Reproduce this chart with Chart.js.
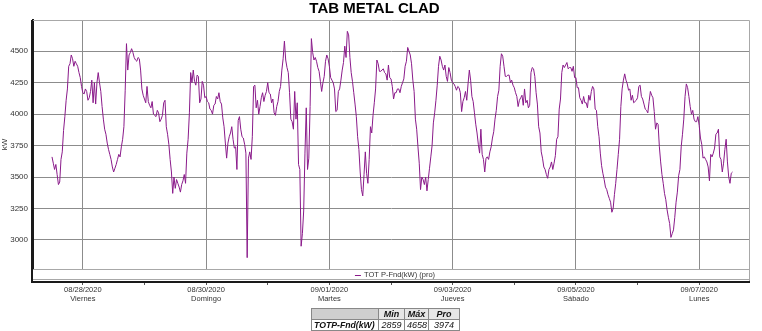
<!DOCTYPE html>
<html>
<head>
<meta charset="utf-8">
<title>TAB METAL CLAD</title>
<script src="https://cdn.jsdelivr.net/npm/chart.js@4.4.0/dist/chart.umd.min.js"></script>
<style>
  html, body { margin: 0; padding: 0; background: #fff; }
  #wrap { position: relative; width: 762px; height: 331px; overflow: hidden; }
  #stats {
    position: absolute; left: 311px; top: 308px; width: 148px;
    table-layout: fixed; border-collapse: collapse;
    font-family: Arial, "Liberation Sans", sans-serif;
    font-style: italic; color: #111;
  }
  #stats td { border: 1px solid #888; padding: 0 2px; height: 10px; line-height: 10px; text-align: center; font-size: 9px; overflow: hidden; white-space: nowrap; }
  #stats tr.head td { font-weight: bold; background: #e6e6e6; }
  #stats tr.head td.blank { background: #cfcfcf; }
  #stats td.name { font-weight: bold; font-size: 8.7px; text-align: left; }
</style>
</head>
<body>
<div id="wrap">
  <canvas id="chart" width="762" height="331"></canvas>
  <table id="stats">
    <colgroup><col style="width:67px"><col style="width:26px"><col style="width:24px"><col style="width:31px"></colgroup>
  </table>
</div>
<script>
// hours counted from 08/28/2020 00:00, one reading every half hour
const startHour = -12;
const stepHours = 0.5;
const kwValues = [
  3660,3610,3560,3600,3520,3440,3460,3640,3700,3870,3980,4110,
  4200,4380,4400,4470,4440,4380,4420,4400,4380,4330,4290,4220,
  4170,4160,4200,4180,4110,4130,4180,4270,4090,4250,4080,4250,
  4330,4250,4180,4060,3960,3880,3840,3770,3720,3680,3640,3580,
  3540,3570,3600,3640,3680,3660,3740,3800,3900,4190,4560,4350,
  4470,4490,4520,4490,4450,4430,4420,4450,4440,4350,4200,4150,
  4120,4090,4220,4100,4070,4050,4100,4000,3990,3980,4030,4010,
  3940,3960,3990,4090,4110,3900,3840,3760,3640,3540,3370,3500,
  3410,3480,3450,3420,3380,3440,3470,3520,3450,3690,3800,4010,
  4330,4250,4350,4260,4230,4310,4300,4090,4120,4260,4230,4130,
  4140,4100,4090,4040,4030,4000,4070,4080,4140,4120,4170,4100,
  4080,3970,3900,3770,3650,3770,3820,3850,3900,3800,3730,3740,
  3560,3950,3980,3880,3820,3810,3760,3690,2859,3650,3700,3640,
  3820,4220,4230,4050,4110,4000,4060,4130,4170,4100,4150,4180,
  4250,4170,4160,4090,4120,4010,3990,4060,4100,4180,4220,4350,
  4440,4580,4430,4370,4330,4170,3960,3940,3880,4180,3960,4090,
  3600,3560,2950,3050,3230,3690,4050,3560,3650,4060,4600,4490,
  4430,4450,4420,4370,4340,4260,4180,4250,4300,4420,4470,4440,
  4380,4290,4270,4250,4200,4020,4030,4180,4200,4270,4350,4410,
  4540,4450,4658,4630,4450,4330,4260,4170,4080,3980,3820,3720,
  3540,3400,3350,3520,3700,3530,3450,3640,3900,3850,3990,4090,
  4200,4430,4400,4340,4340,4350,4360,4330,4320,4270,4390,4290,
  4280,4220,4120,4170,4170,4200,4200,4170,4220,4250,4280,4380,
  4420,4530,4500,4470,4400,4270,4180,3960,3880,3740,3610,3400,
  3500,3480,3440,3500,3390,3480,3570,3660,3750,3930,4010,4110,
  4230,4380,4460,4430,4380,4350,4390,4300,4260,4370,4330,4270,
  4250,4240,4220,4190,4220,4210,4170,4020,4100,4130,4180,4110,
  4240,4350,4270,4140,4100,4010,3920,3850,3760,3690,3880,3680,
  3640,3540,3650,3660,3640,3700,3740,3810,3860,3960,4030,4140,
  4190,4380,4480,4460,4380,4300,4300,4310,4310,4250,4270,4230,
  4210,4170,4140,4060,4110,4130,4150,4070,4200,4090,4110,4050,
  4070,4330,4370,4360,4300,4170,4080,3900,3850,3700,3650,3580,
  3560,3520,3490,3560,3580,3620,3560,3610,3670,3800,3820,4040,
  4120,4330,4390,4370,4390,4410,4360,4370,4370,4340,4380,4290,
  4290,4210,4210,4130,4110,4080,4140,4090,4090,4050,4150,4110,
  4180,4220,4200,4040,4030,3900,3820,3690,3590,3530,3480,3420,
  3400,3360,3330,3300,3220,3250,3360,3450,3560,3680,3800,4060,
  4200,4270,4320,4270,4240,4190,4200,4110,4150,4090,4100,4110,
  4130,4220,4230,4140,4120,4080,4040,4030,4010,4100,4180,4150,
  4130,4020,3880,3930,3920,3740,3620,3520,3450,3370,3320,3240,
  3180,3130,3020,3050,3080,3180,3300,3380,3510,3560,3740,3840,
  3960,4140,4240,4210,4140,4060,4000,4030,3960,3940,3940,3980,
  3910,3810,3760,3650,3660,3640,3620,3580,3470,3680,3660,3690,
  3730,3840,3850,3880,3660,3640,3540,3610,3720,3800,3620,3500,
  3450,3530,3540
];

const dateLabels = ['08/28/2020', '08/30/2020', '09/01/2020', '09/03/2020', '09/05/2020', '09/07/2020'];
const dayLabels = ['Viernes', 'Domingo', 'Martes', 'Jueves', 'Sábado', 'Lunes'];
const dayTicks = [0, 24, 48, 72, 96, 120, 144, 168, 192, 216, 240];
const yTicks = [3000, 3250, 3500, 3750, 4000, 4250, 4500];

const seriesLabel = 'TOT P-Fnd(kW) (pro)';
const statName = 'TOTP-Fnd(kW)';
const statHeads = ['Min', 'Máx', 'Pro'];
const statValues = [2859, 4658, 3974];

const FONT = 'Arial, "Liberation Sans", sans-serif';

const points = kwValues.map((v, i) => ({ x: startHour + i * stepHours, y: v }));

// strip under the plot with the series legend, plus the frame
const framePlugin = {
  id: 'frame',
  afterDraw(chart) {
    const { ctx, chartArea: a } = chart;
    const stripBottom = a.bottom + 12;
    ctx.save();
    ctx.fillStyle = '#fff';
    ctx.fillRect(a.left + 1, a.bottom + 1, a.right - a.left - 1, stripBottom - a.bottom - 1);

    ctx.strokeStyle = '#a8a8a8';
    ctx.lineWidth = 1;
    ctx.beginPath();
    ctx.moveTo(a.left, a.top + 0.5); ctx.lineTo(a.right + 0.5, a.top + 0.5);
    ctx.lineTo(a.right + 0.5, stripBottom);
    ctx.moveTo(a.left, a.bottom + 0.5); ctx.lineTo(a.right, a.bottom + 0.5);
    ctx.moveTo(a.left, stripBottom - 1.5); ctx.lineTo(a.right, stripBottom - 1.5);
    ctx.stroke();

    ctx.strokeStyle = '#1a1a1a';
    ctx.lineWidth = 2;
    ctx.beginPath();
    ctx.moveTo(a.left - 1, a.top); ctx.lineTo(a.left - 1, stripBottom + 1);
    ctx.lineTo(a.right + 1, stripBottom + 1);
    ctx.stroke();

    ctx.font = '7.5px ' + FONT;
    const label = chart.data.datasets[0].label;
    const tw = ctx.measureText(label).width;
    const cx = (a.left + a.right) / 2 + 4;
    const x0 = cx - (tw + 9) / 2;
    const ly = a.bottom + 6;
    ctx.strokeStyle = chart.data.datasets[0].borderColor;
    ctx.lineWidth = 1;
    ctx.beginPath();
    ctx.moveTo(x0, ly + 0.5); ctx.lineTo(x0 + 6, ly + 0.5);
    ctx.stroke();
    ctx.fillStyle = '#333';
    ctx.textBaseline = 'middle';
    ctx.fillText(label, x0 + 9, ly);
    ctx.restore();
  }
};

new Chart(document.getElementById('chart'), {
  type: 'line',
  data: {
    datasets: [{
      label: seriesLabel,
      data: points,
      borderColor: '#8a1a8a',
      borderWidth: 1,
      pointRadius: 0,
      tension: 0
    }]
  },
  options: {
    responsive: false,
    animation: false,
    devicePixelRatio: 1,
    layout: { padding: { left: 0, right: 13, top: 0, bottom: 0 } },
    plugins: {
      legend: { display: false },
      tooltip: { enabled: false },
      title: {
        display: true,
        text: 'TAB METAL CLAD',
        color: '#000',
        font: { family: FONT, size: 15, weight: 'bold' },
        padding: { top: 0, bottom: 2 }
      }
    },
    scales: {
      x: {
        type: 'linear',
        min: -19.4,
        max: 259.4,
        afterFit: s => { s.height = 62; },
        afterBuildTicks: s => { s.ticks = dayTicks.map(v => ({ value: v })); },
        border: { display: true, color: '#b0b0b0', width: 1 },
        grid: {
          color: c => (c.tick && c.tick.value % 48 === 0) ? '#8c8c8c' : 'rgba(0,0,0,0)',
          tickColor: '#555',
          tickLength: 16,
          lineWidth: 1
        },
        ticks: {
          autoSkip: false,
          maxRotation: 0,
          padding: 1,
          color: '#333',
          font: { family: FONT, size: 7.5, lineHeight: 1.15 },
          callback: v => v % 48 === 0 ? [dateLabels[v / 48], dayLabels[v / 48]] : ''
        }
      },
      y: {
        min: 2769,
        max: 4748,
        afterFit: s => { s.width = 33; },
        afterBuildTicks: s => { s.ticks = yTicks.map(v => ({ value: v })); },
        border: { display: true, color: '#1a1a1a', width: 2 },
        grid: { color: '#8c8c8c', lineWidth: 1, drawTicks: false },
        ticks: {
          padding: 5,
          color: '#333',
          font: { family: FONT, size: 8 },
          callback: v => String(v)
        },
        title: {
          display: true,
          text: 'kW',
          color: '#333',
          font: { family: FONT, size: 8 },
          padding: { top: 0, bottom: 0 }
        }
      }
    }
  },
  plugins: [framePlugin]
});

// stats table under the chart
const table = document.getElementById('stats');
const head = table.insertRow();
head.className = 'head';
const blank = head.insertCell();
blank.className = 'blank';
statHeads.forEach(h => { head.insertCell().textContent = h; });
const row = table.insertRow();
const nameCell = row.insertCell();
nameCell.className = 'name';
nameCell.textContent = statName;
statValues.forEach(v => { row.insertCell().textContent = v; });
</script>
</body>
</html>
